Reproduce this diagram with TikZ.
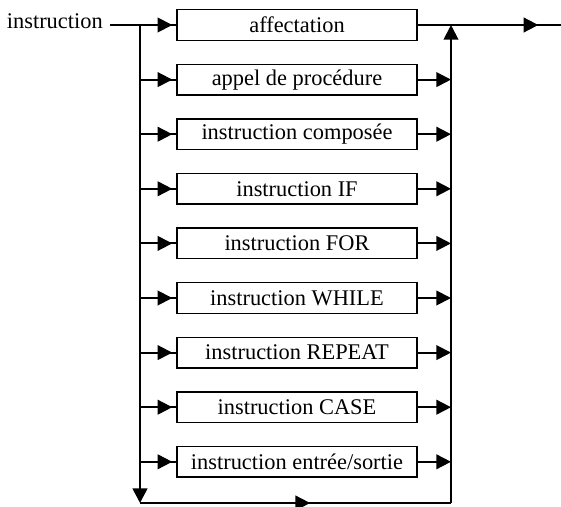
\documentclass[tikz,border=0pt]{standalone}
\usepackage{fontspec}
\setmainfont{Liberation Serif}
\usetikzlibrary{arrows.meta,decorations.markings}

\begin{document}
\begin{tikzpicture}[x=0.75pt,y=-0.75pt,
  txt/.style={font=\fontsize{16.8}{20}\selectfont},
  stepbox/.style={draw, line width=1.1pt, minimum width=180pt, minimum height=23pt,
    inner sep=0pt, txt},
  flow/.style={line width=1.4pt, line join=miter},
  rail/.style={line width=2pt, line join=miter},
  tipshape/.tip={Triangle[length=11pt,width=11pt]},
  midarrow/.style={postaction={decorate}, decoration={markings,
    mark=at position #1 with {\arrow{tipshape}}}}]
\useasboundingbox (0,0) rectangle (561,507);

% entry label and start of the main line
\node[txt, anchor=base east, inner sep=0pt] (lab) at (103,28) {instruction};
\coordinate (start) at (110,25);
\coordinate (out) at (561,25);
\coordinate (Lb) at (140,503);
\coordinate (Rb) at (451,503);

% alternatives
\foreach [count=\i] \t in {affectation, appel de procédure, instruction composée,
  instruction IF, instruction FOR, instruction WHILE, instruction REPEAT,
  instruction CASE, instruction entrée/sortie}{
  \pgfmathsetmacro\yy{25+54.6*(\i-1)}
  \node[stepbox] (b\i) at (297,\yy) {\t};
  \coordinate (L\i) at (140,\yy);
  \coordinate (R\i) at (451,\yy);
  \draw[flow, midarrow=-3pt] (L\i) -- (b\i.west);
}
\foreach \i in {2,...,9}{
  \draw[flow, -tipshape] (b\i.east) -- (R\i);
}

% main line
\draw[flow] (start) -- (L1);
\draw[flow, midarrow=-17pt] (b1.east) -- (R1) -- (out);

% left rail going down, bottom bypass, right rail going up
\draw[rail, -tipshape] (L1) -- (Lb);
\draw[flow, midarrow=0.547] (Lb) -- (Rb);
\draw[flow, -tipshape] (Rb) -- (R1);
\end{tikzpicture}
\end{document}
